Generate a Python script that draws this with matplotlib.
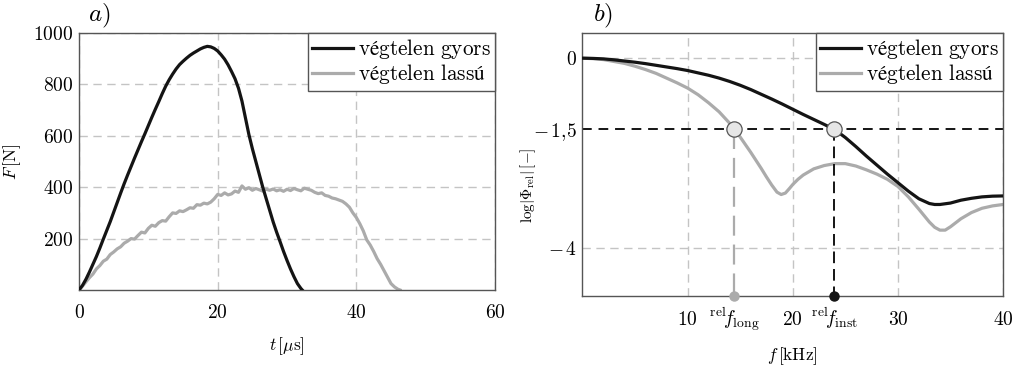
import matplotlib
matplotlib.use("Agg")
import matplotlib.pyplot as plt

plt.rcParams['mathtext.fontset'] = 'cm'
plt.rcParams['font.family'] = ['DejaVu Serif']

# ---------------- data: panel a) ----------------
t_fast = [0, 0.5, 1, 1.5, 2, 2.5, 3, 3.5, 4, 4.5, 5, 5.5, 6, 6.5, 7, 7.5, 8, 8.5, 9, 9.5,
          10, 10.5, 11, 11.5, 12, 12.5, 13, 13.5, 14, 14.5, 15, 15.5, 16, 16.5, 17, 17.5,
          18, 18.5, 19, 19.5, 20, 20.5, 21, 21.5, 22, 22.5, 23, 23.5, 24, 24.5, 25, 25.5,
          26, 26.5, 27, 27.5, 28, 28.5, 29, 29.5, 30, 30.5, 31, 31.5, 32, 32.2]
F_fast = [0, 18, 42, 70, 100, 130, 163, 198, 232, 266, 303, 340, 377, 413, 447, 480, 513, 545, 577, 608,
          640, 672, 703, 733, 764, 793, 818, 840, 860, 877, 890, 902, 913, 922, 930, 938,
          944, 948, 946, 940, 930, 915, 898, 876, 850, 822, 785, 735, 670, 605, 550, 500,
          450, 400, 355, 310, 265, 225, 188, 150, 115, 82, 52, 25, 6, 0]

t_slow = [0, 0.5, 1, 1.5, 2, 2.5, 3, 3.5, 4, 4.5, 5, 5.5, 6, 6.5, 7, 7.5, 8, 8.5, 9, 9.5,
          10, 10.5, 11, 11.5, 12, 12.5, 13, 13.5, 14, 14.5, 15, 15.5, 16, 16.5, 17, 17.5,
          18, 18.5, 19, 19.5, 20, 20.5, 21, 21.5, 22, 22.5, 23, 23.5, 24, 24.5, 25, 25.5,
          26, 26.5, 27, 27.5, 28, 28.5, 29, 29.5, 30, 30.5, 31, 31.5, 32, 32.5, 33, 33.5,
          34, 34.5, 35, 35.5, 36, 36.5, 37, 37.5, 38, 38.5, 39, 39.5, 40, 40.5, 41, 41.5,
          42, 42.5, 43, 43.5, 44, 44.5, 45, 45.5, 46, 46.3]
F_slow = [0, 15, 32, 48, 62, 82, 95, 112, 120, 138, 148, 160, 168, 182, 190, 200, 198, 212, 225, 222,
          240, 252, 248, 262, 270, 268, 285, 300, 298, 308, 305, 312, 320, 318, 332, 330,
          338, 335, 342, 355, 372, 368, 378, 370, 374, 385, 380, 405, 392, 398, 388, 395,
          390, 385, 392, 388, 393, 386, 390, 384, 392, 387, 395, 390, 386, 396, 392, 388,
          380, 375, 378, 368, 365, 358, 355, 350, 345, 335, 322, 300, 282, 258, 230, 195,
          175, 150, 122, 100, 75, 50, 25, 12, 3, 0]

a_xticks = [0, 20, 40, 60]
a_xticklabels = [r'$0$', r'$20$', r'$40$', r'$60$']
a_yticks = [200, 400, 600, 800, 1000]
a_yticklabels = [r'$200$', r'$400$', r'$600$', r'$800$', r'$1000$']

# ---------------- data: panel b) ----------------
f_fast = [0, 1, 2, 3, 4, 5, 6, 7, 8, 9, 10, 11, 12, 13, 14, 15, 16, 17, 18, 19,
          20, 21, 22, 23, 24, 25, 26, 27, 28, 29, 30, 31, 32, 33, 33.5, 34, 35, 36,
          37, 38, 39, 40]
phi_fast = [0, -0.005, -0.015, -0.035, -0.06, -0.085, -0.115, -0.15, -0.185, -0.22,
            -0.26, -0.31, -0.36, -0.42, -0.49, -0.57, -0.66, -0.76, -0.86, -0.965,
            -1.075, -1.185, -1.29, -1.395, -1.505, -1.67, -1.86, -2.06, -2.25, -2.44,
            -2.62, -2.80, -2.96, -3.06, -3.08, -3.08, -3.05, -2.99, -2.95, -2.92,
            -2.905, -2.9]

f_slow = [0, 1, 2, 3, 4, 5, 6, 7, 8, 9, 10, 11, 12, 13, 14, 15, 16, 17, 17.5, 18,
          18.5, 18.9, 19.3, 19.7, 20, 20.5, 21, 22, 23, 24, 25, 26, 27, 28, 29, 30,
          31, 32, 33, 33.5, 34, 34.5, 35, 36, 37, 38, 39, 40]
phi_slow = [0, -0.01, -0.03, -0.07, -0.11, -0.17, -0.24, -0.32, -0.42, -0.52, -0.63,
            -0.77, -0.94, -1.13, -1.37, -1.66, -1.98, -2.32, -2.50, -2.67,
            -2.82, -2.87, -2.84, -2.74, -2.66, -2.55, -2.46, -2.33, -2.26, -2.22,
            -2.22, -2.27, -2.35, -2.44, -2.55, -2.70, -2.92, -3.18, -3.45, -3.56,
            -3.62, -3.62, -3.55, -3.38, -3.25, -3.16, -3.11, -3.08]

level = -1.5
f_long = 14.44
f_inst = 23.93

b_xticks = [10, 20, 30, 40]
b_xticklabels = [r'$10$', r'$20$', r'$30$', r'$40$']
b_xminor = [f_long, f_inst]
b_xminorlabels = [r'${}^{\rm rel}\!f_{\rm long}$', r'${}^{\rm rel}\!f_{\rm inst}$']
b_yticks = [0, -4]
b_yticklabels = [r'$0$', r'$-\,4$']
b_yminor = [level]
b_yminorlabels = [r'$-\,1{,}5$']

lab_fast = r'$\mathrm{végtelen\ gyors}$'
lab_slow = r'$\mathrm{végtelen\ lassú}$'

# ---------------- styling ----------------
BLACK = '#141414'
GRAY = '#ababab'
GRID = '#c4c4c4'
SPINE = '#555555'
LW = 2.3
TICKFS = 14
LABFS = 12.5
LEGFS = 15.3

fig = plt.figure(figsize=(10.16, 3.67), dpi=100)
ax1 = fig.add_axes([0.0778, 0.2098, 0.4094, 0.7003])
ax2 = fig.add_axes([0.5733, 0.1943, 0.4139, 0.7158])

for ax in (ax1, ax2):
    for s in ax.spines.values():
        s.set_color(SPINE)
        s.set_linewidth(1.0)
    ax.tick_params(which='both', length=0, labelsize=TICKFS)

legend_kw = dict(loc='upper right', borderaxespad=0, fancybox=False, framealpha=1,
                 edgecolor=SPINE, fontsize=LEGFS, handlelength=1.9, handletextpad=0.25,
                 borderpad=0.2, labelspacing=0.05)

# ----- panel a -----
ax1.plot(t_fast, F_fast, color=BLACK, lw=LW, label=lab_fast, zorder=3)
ax1.plot(t_slow, F_slow, color=GRAY, lw=LW, label=lab_slow, zorder=2)
ax1.set_xlim(0, 60)
ax1.set_ylim(0, 1000)
ax1.set_xticks(a_xticks, a_xticklabels)
ax1.set_yticks(a_yticks, a_yticklabels)
ax1.tick_params(axis='x', pad=10)
ax1.tick_params(axis='y', pad=4)
ax1.grid(True, color=GRID, ls=(0, (6, 4)), lw=1.0)
ax1.set_axisbelow(True)
ax1.set_xlabel(r'$t\,[\mu\mathrm{s}]$', fontsize=LABFS)
ax1.set_ylabel(r'$F\,[\mathrm{N}]$', fontsize=LABFS)
ax1.xaxis.set_label_coords(0.5, -0.175)
ax1.yaxis.set_label_coords(-0.135, 0.5)
leg1 = ax1.legend(**legend_kw)
leg1.get_frame().set_linewidth(1.0)
ax1.text(0.022, 1.012, r'$\mathit{a)}$', transform=ax1.transAxes, fontsize=18,
         ha='left', va='bottom')

# ----- panel b -----
ax2.plot(f_fast, phi_fast, color=BLACK, lw=LW, label=lab_fast, zorder=3)
ax2.plot(f_slow, phi_slow, color=GRAY, lw=LW, label=lab_slow, zorder=2)
ax2.set_xlim(0, 40)
ax2.set_ylim(-5, 0.53)
ax2.set_xticks(b_xticks, b_xticklabels)
ax2.set_xticks(b_xminor, b_xminorlabels, minor=True)
ax2.set_yticks(b_yticks, b_yticklabels)
ax2.set_yticks(b_yminor, b_yminorlabels, minor=True)
ax2.grid(True, which='major', color=GRID, ls=(0, (6, 4)), lw=1.0)
ax2.set_axisbelow(True)
for lab in ax2.get_xticklabels(which='both'):
    lab.set_verticalalignment('baseline')
ax2.tick_params(axis='x', which='both', pad=21)
ax2.tick_params(axis='y', which='both', pad=4)

# reference level and frequency markers
ax2.axhline(level, color=BLACK, lw=1.4, ls=(0, (5, 3.5)), zorder=2.5)
ax2.plot([f_long, f_long], [level, -5], color=GRAY, lw=1.6, ls=(0, (9, 4)), zorder=2.5)
ax2.plot([f_inst, f_inst], [level, -5], color=BLACK, lw=1.4, ls=(0, (6, 3)), zorder=2.5)
ax2.plot([f_long, f_inst], [level, level], ls='none', marker='o', ms=11,
         mfc='#e6e6e6', mec='#555555', mew=0.9, zorder=5)
ax2.plot([f_long], [-5], ls='none', marker='o', ms=6.5, mfc=GRAY, mec=GRAY,
         clip_on=False, zorder=5)
ax2.plot([f_inst], [-5], ls='none', marker='o', ms=6.5, mfc=BLACK, mec=BLACK,
         clip_on=False, zorder=5)

ax2.set_xlabel(r'$f\,[\mathrm{kHz}]$', fontsize=LABFS)
ax2.set_ylabel(r'$\log|\Phi_{\rm rel}|\,[-]$', fontsize=11)
ax2.xaxis.set_label_coords(0.5, -0.19)
ax2.yaxis.set_label_coords(-0.105, 0.42)
leg2 = ax2.legend(**legend_kw)
leg2.get_frame().set_linewidth(1.0)
ax2.text(0.025, 1.012, r'$\mathit{b)}$', transform=ax2.transAxes, fontsize=18,
         ha='left', va='bottom')

fig.savefig('out.png', dpi=100)
